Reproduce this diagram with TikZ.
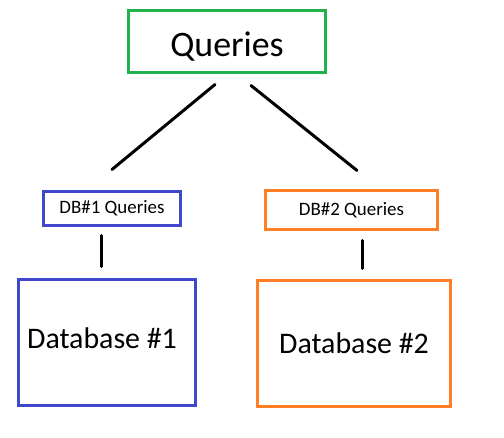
\documentclass[tikz,border=0pt]{standalone}
\usepackage{fontspec}
\setmainfont{Carlito}
\usetikzlibrary{positioning}
\definecolor{querycolor}{HTML}{22B14C}
\definecolor{dbonecolor}{HTML}{3F48CC}
\definecolor{dbtwocolor}{HTML}{FF7F27}
\tikzset{
  db box/.style={draw,line width=3bp,fill=white,inner sep=0pt},
  db small/.style={db box,font=\fontsize{19}{23}\selectfont},
  db big/.style={db box,font=\fontsize{30}{36}\selectfont},
  db link/.style={black,line width=3bp,line cap=round}
}
\begin{document}
\begin{tikzpicture}[x=1bp,y=-1bp]
  \useasboundingbox (0,0) rectangle (504,438);
  % top level
  \node[db box,draw=querycolor,font=\fontsize{36}{42}\selectfont,text height=36bp,text depth=5bp,
    minimum width=197bp,minimum height=62bp] (queries) at (227,41.5) {Queries};
  % per-database queries
  \node[db small,draw=dbonecolor,minimum width=137bp,minimum height=34bp] (dbq1) at (112,208.5) {DB\#1 Queries};
  \node[db small,draw=dbtwocolor,minimum width=172bp,minimum height=39bp] (dbq2) at (351.5,210) {DB\#2 Queries};
  % databases
  \node[db big,draw=dbonecolor,text depth=9bp,minimum width=177bp,minimum height=126bp] (db1) at (107,342.5) {Database \#1\hspace*{10bp}};
  \node[db big,draw=dbtwocolor,minimum width=193bp,minimum height=126bp] (db2) at (354,343.5) {Database \#2};
  % link ends
  \coordinate (q left) at (215,84.5);
  \coordinate (q right) at (251,85.5);
  \coordinate (q1 top) at (112,169.5);
  \coordinate (q2 top) at (357,170.5);
  \coordinate (q1 bot) at (101,235.5);
  \coordinate (db1 top) at (101,266.5);
  \coordinate (q2 bot) at (362,240.5);
  \coordinate (db2 top) at (362,268.5);
  \draw[db link] (q left) -- (q1 top);
  \draw[db link] (q right) -- (q2 top);
  \draw[db link] (q1 bot) -- (db1 top);
  \draw[db link] (q2 bot) -- (db2 top);
\end{tikzpicture}
\end{document}
